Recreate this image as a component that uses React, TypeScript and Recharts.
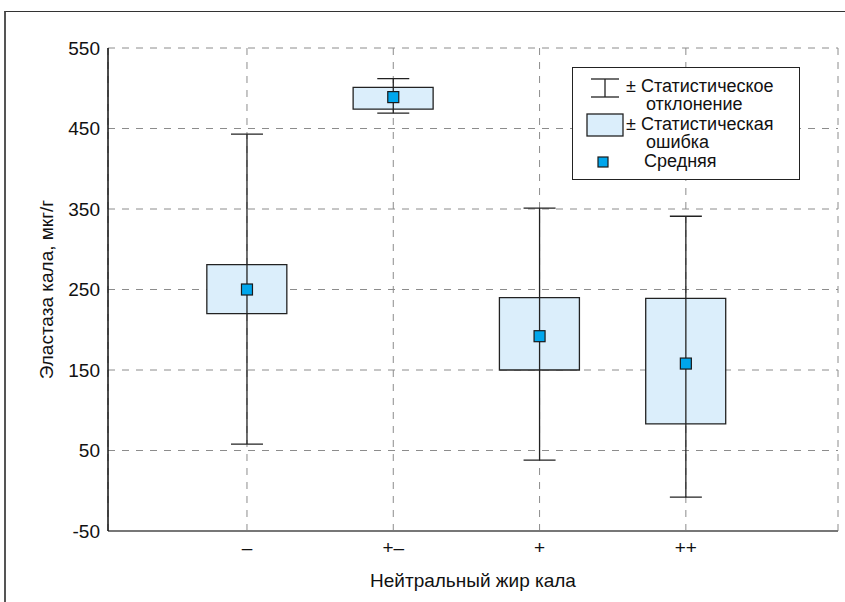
import { ComposedChart, Bar, Scatter, ErrorBar, XAxis, YAxis, CartesianGrid } from 'recharts';

const categories = ['–', '+–', '+', '++'];
const xPos = [1, 2, 3, 4];
const means = [250, 489, 192, 158];
const seLow = [220, 474, 150, 83];
const seHigh = [281, 501, 240, 239];
const sdLow = [58, 469, 38, -8];
const sdHigh = [443, 512, 351, 341];
const yTicks = [-50, 50, 150, 250, 350, 450, 550];

const FONT = '"Liberation Sans", Arial, Helvetica, sans-serif';
const FS = 19;
const BOX_FILL = '#dbeefb';
const MEAN_FILL = '#00a6ec';

const data = xPos.map((x, i) => ({
  x,
  mean: means[i],
  se: [seLow[i], seHigh[i]],
  sdErr: [means[i] - sdLow[i], sdHigh[i] - means[i]],
}));

const MeanSquare = (props: any) => {
  const { cx, cy } = props;
  if (cx == null || cy == null) return <g />;
  return <rect x={cx - 5.5} y={cy - 5.5} width={11} height={11} fill={MEAN_FILL} stroke="#1a1a1a" strokeWidth={1.2} />;
};

function LegendBox() {
  const text = { position: 'absolute' as const, fontSize: 18, color: '#111', whiteSpace: 'pre' as const, lineHeight: '18px' };
  return (
    <div
      style={{
        position: 'absolute',
        left: 572,
        top: 67,
        width: 228,
        height: 113,
        border: '1.5px solid #222',
        background: '#fff',
        boxSizing: 'border-box',
        fontFamily: FONT,
      }}
    >
      <svg width={228} height={113} style={{ position: 'absolute', left: 0, top: 0 }}>
        <line x1={18} y1={11} x2={46} y2={11} stroke="#222" strokeWidth={1.3} />
        <line x1={18} y1={29} x2={46} y2={29} stroke="#222" strokeWidth={1.3} />
        <line x1={32} y1={11} x2={32} y2={29} stroke="#222" strokeWidth={1.3} />
        <rect x={14} y={46} width={36} height={22} fill={BOX_FILL} stroke="#222" strokeWidth={1.3} />
        <rect x={25} y={89} width={10} height={10} fill={MEAN_FILL} stroke="#1a1a1a" strokeWidth={1.2} />
      </svg>
      <div style={{ ...text, left: 53, top: 9 }}>{'± Статистическое\n    отклонение'}</div>
      <div style={{ ...text, left: 53, top: 47 }}>{'± Статистическая\n    ошибка'}</div>
      <div style={{ ...text, left: 71, top: 84 }}>Средняя</div>
    </div>
  );
}

export default function App() {
  return (
    <div style={{ position: 'fixed', left: 0, top: 0, width: 845, height: 602, overflow: 'hidden', background: '#fff', fontFamily: FONT }}>
      <div
        style={{
          position: 'absolute',
          left: 4,
          top: 11,
          width: 1000,
          height: 1000,
          borderLeft: '2px solid #555',
          borderTop: '1.5px solid #333',
        }}
      />
      <div style={{ position: 'absolute', left: 0, top: 0 }}>
        <ComposedChart width={845} height={602} data={data} margin={{ top: 48, right: 7, bottom: 0, left: 0 }}>
          <CartesianGrid stroke="#8c8c8c" strokeDasharray="7 7" strokeWidth={1} />
          <XAxis
            xAxisId={0}
            dataKey="x"
            type="number"
            domain={[0.05, 5.04]}
            ticks={xPos}
            tickFormatter={(v: number) => categories[xPos.indexOf(v)] ?? ''}
            height={71}
            tickLine={false}
            tickSize={0}
            tickMargin={10}
            axisLine={{ stroke: '#777', strokeWidth: 2 }}
            tick={{ fontSize: FS, fill: '#111', fontFamily: FONT }}
            label={{ value: 'Нейтральный жир кала', position: 'insideBottom', offset: 15, fontSize: FS, fill: '#111', fontFamily: FONT }}
          />
          <XAxis
            xAxisId="top"
            orientation="top"
            dataKey="x"
            type="number"
            domain={[0.05, 5.04]}
            ticks={xPos}
            height={0}
            tick={false}
            tickSize={-5}
            tickLine={{ stroke: '#888' }}
            axisLine={{ stroke: '#111', strokeWidth: 1.5 }}
          />
          <YAxis
            yAxisId={0}
            type="number"
            domain={[-50, 550]}
            ticks={yTicks}
            width={108}
            tickLine={false}
            tickSize={0}
            tickMargin={8}
            axisLine={{ stroke: '#111', strokeWidth: 1.5 }}
            tick={{ fontSize: FS, fill: '#111', fontFamily: FONT }}
            label={{
              value: 'Эластаза кала, мкг/г',
              angle: -90,
              position: 'insideLeft',
              offset: 46,
              fontSize: FS,
              fill: '#111',
              fontFamily: FONT,
              style: { textAnchor: 'middle' },
            }}
          />
          <YAxis
            yAxisId="right"
            orientation="right"
            type="number"
            domain={[-50, 550]}
            width={0}
            tick={false}
            tickLine={false}
            axisLine={{ stroke: '#111', strokeWidth: 1.5 }}
          />
          <Bar dataKey="se" barSize={80} fill={BOX_FILL} stroke="#222" strokeWidth={1.3} isAnimationActive={false} />
          <Scatter dataKey="mean" shape={() => <g />} isAnimationActive={false}>
            <ErrorBar dataKey="sdErr" direction="y" width={16} stroke="#222" strokeWidth={1.3} isAnimationActive={false} />
          </Scatter>
          <Scatter dataKey="mean" shape={MeanSquare} isAnimationActive={false} />
        </ComposedChart>
      </div>
      <LegendBox />
    </div>
  );
}
